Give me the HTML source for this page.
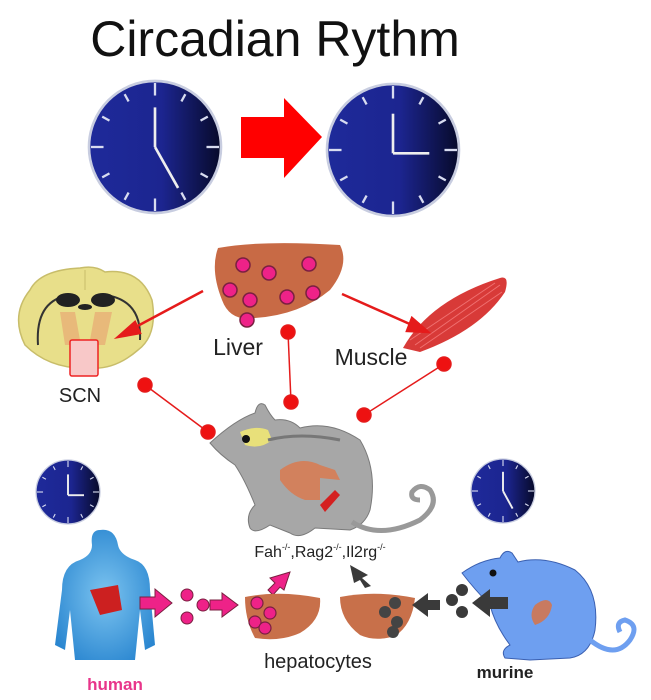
<!DOCTYPE html>
<html><head><meta charset="utf-8"><style>
html,body{margin:0;padding:0;background:#fff;}
svg{display:block;font-family:"Liberation Sans",Arial,sans-serif;}
</style></head><body>
<svg width="651" height="700" viewBox="0 0 651 700" xmlns="http://www.w3.org/2000/svg">
<defs>
<linearGradient id="cg" x1="0" x2="1" y1="0" y2="0">
<stop offset="0" stop-color="#1e2a9a"/><stop offset="0.55" stop-color="#1c2590"/><stop offset="1" stop-color="#070a2a"/>
</linearGradient>
<radialGradient id="bodyg" cx="0.5" cy="0.5" r="0.6"><stop offset="0" stop-color="#7cc4f0"/><stop offset="1" stop-color="#2a86d0"/></radialGradient>
<g id="clock">
<circle r="1" fill="url(#cg)" stroke="#c8cde0" stroke-width="0.04"/>
<g stroke="#d8dcf0" stroke-width="0.035">
<line x1="0" y1="-0.97" x2="0" y2="-0.78"/><line x1="0" y1="0.97" x2="0" y2="0.78"/>
<line x1="-0.97" y1="0" x2="-0.78" y2="0"/><line x1="0.97" y1="0" x2="0.78" y2="0"/>
<line x1="0.46" y1="-0.8" x2="0.4" y2="-0.69"/><line x1="0.8" y1="-0.46" x2="0.69" y2="-0.4"/>
<line x1="0.8" y1="0.46" x2="0.69" y2="0.4"/><line x1="0.46" y1="0.8" x2="0.4" y2="0.69"/>
<line x1="-0.46" y1="0.8" x2="-0.4" y2="0.69"/><line x1="-0.8" y1="0.46" x2="-0.69" y2="0.4"/>
<line x1="-0.8" y1="-0.46" x2="-0.69" y2="-0.4"/><line x1="-0.46" y1="-0.8" x2="-0.4" y2="-0.69"/>
</g>
</g>
</defs>

<text x="275" y="56" font-size="50" text-anchor="middle" fill="#111">Circadian Rythm</text>

<g transform="translate(155,147) scale(66)"><use href="#clock"/>
<g stroke="#eee" stroke-width="0.04"><line x1="0" y1="0" x2="0" y2="-0.6"/><line x1="0" y1="0" x2="0.35" y2="0.62"/></g></g>
<polygon points="241,117 284,117 284,98 322,137 284,178 284,158 241,158" fill="#f00"/>
<g transform="translate(393,150) scale(66)"><use href="#clock"/>
<g stroke="#eee" stroke-width="0.04"><line x1="0" y1="0.05" x2="0" y2="-0.55"/><line x1="0" y1="0.05" x2="0.55" y2="0.05"/></g></g>

<!-- brain -->
<path d="M30,290 Q40,270 80,268 Q95,265 105,272 Q140,268 152,300 Q158,335 138,350 Q115,370 90,368 Q50,370 25,345 Q10,315 30,290Z" fill="#e8df8a" stroke="#c8bd6a" stroke-width="1.5"/>
<line x1="85" y1="270" x2="85" y2="290" stroke="#c8bd6a" stroke-width="1"/>
<path d="M38,345 Q35,300 70,295 M140,340 Q142,300 105,295" fill="none" stroke="#333" stroke-width="2"/>
<ellipse cx="68" cy="300" rx="12" ry="7" fill="#222"/><ellipse cx="103" cy="300" rx="12" ry="7" fill="#222"/>
<ellipse cx="85" cy="307" rx="7" ry="3" fill="#222"/>
<path d="M60,312 L75,312 L80,340 L90,340 L95,312 L112,312 L105,345 L65,345Z" fill="#e8a070" opacity="0.6"/>
<rect x="70" y="340" width="28" height="36" fill="#f8c8c8" stroke="#e22" stroke-width="1.5" rx="2"/>
<text x="80" y="402" font-size="20" text-anchor="middle" fill="#222">SCN</text>

<!-- top liver -->
<path d="M218,248 Q260,240 340,245 Q350,265 330,290 Q300,315 255,318 Q230,322 222,300 Q210,270 218,248Z" fill="#c86a45"/>
<g fill="#ee2288" stroke="#7a2040" stroke-width="1.5">
<circle cx="243" cy="265" r="7"/><circle cx="269" cy="273" r="7"/><circle cx="309" cy="264" r="7"/>
<circle cx="230" cy="290" r="7"/><circle cx="250" cy="300" r="7"/><circle cx="287" cy="297" r="7"/>
<circle cx="313" cy="293" r="7"/><circle cx="247" cy="320" r="7"/></g>
<text x="238" y="355" font-size="23" text-anchor="middle" fill="#222">Liver</text>

<!-- muscle -->
<path d="M403,348 Q430,300 500,278 Q510,275 505,292 Q480,330 420,352 Z" fill="#d83a38"/>
<g stroke="#f07070" stroke-width="1"><line x1="415" y1="345" x2="500" y2="285"/><line x1="420" y1="348" x2="502" y2="292"/><line x1="410" y1="340" x2="495" y2="283"/></g>
<text x="371" y="365" font-size="23" text-anchor="middle" fill="#222">Muscle</text>

<g stroke="#e51b1b" stroke-width="2.5" fill="#e51b1b">
<line x1="203" y1="291" x2="130" y2="330"/><polygon points="118,337 135,322 140,333"/>
<line x1="342" y1="294" x2="412" y2="325"/><polygon points="428,332 412,318 407,331"/>
</g>
<g stroke="#e51b1b" stroke-width="1.5" fill="#ee1111">
<line x1="145" y1="385" x2="208" y2="432"/><circle cx="145" cy="385" r="7"/><circle cx="208" cy="432" r="7"/>
<line x1="288" y1="332" x2="291" y2="402"/><circle cx="288" cy="332" r="7"/><circle cx="291" cy="402" r="7"/>
<line x1="444" y1="364" x2="364" y2="415"/><circle cx="444" cy="364" r="7"/><circle cx="364" cy="415" r="7"/>
</g>

<!-- gray mouse -->
<path d="M210,443 Q235,420 255,413 Q258,400 265,405 Q270,415 275,420 Q290,418 300,428 Q330,420 360,440 Q378,470 370,510 Q365,525 350,530 L315,528 Q300,540 290,533 L270,525 Q255,535 250,528 Q245,515 255,505 Q245,480 235,465 Q220,455 210,443Z" fill="#a7a7a7" stroke="#7a7a7a" stroke-width="1"/>
<path d="M352,522 Q380,540 420,520 Q440,505 430,490 Q420,482 412,492 Q410,500 420,500" fill="none" stroke="#999" stroke-width="5"/>
<path d="M240,432 Q255,425 268,430 L272,440 Q260,450 245,445Z" fill="#e8e07a"/>
<circle cx="246" cy="439" r="4" fill="#111"/>
<path d="M268,440 Q300,432 340,440" fill="none" stroke="#777" stroke-width="3"/>
<path d="M280,470 Q300,455 320,465 L335,470 L340,480 L320,478 L320,500 L305,500 Q290,495 280,480Z" fill="#d97a50" opacity="0.85"/>
<path d="M320,505 L335,490 L340,495 L325,512Z" fill="#d42020"/>

<g transform="translate(68,492) scale(32)"><use href="#clock"/>
<g stroke="#eee" stroke-width="0.06"><line x1="0" y1="0.1" x2="0" y2="-0.55"/><line x1="0" y1="0.1" x2="0.5" y2="0.1"/></g></g>
<g transform="translate(503,491) scale(32)"><use href="#clock"/>
<g stroke="#eee" stroke-width="0.06"><line x1="0" y1="0" x2="0" y2="-0.6"/><line x1="0" y1="0" x2="0.3" y2="0.55"/></g></g>

<text x="320" y="557" font-size="16" text-anchor="middle" fill="#222">Fah<tspan font-size="9" dy="-7">-/-</tspan><tspan dy="7">,Rag2</tspan><tspan font-size="9" dy="-7">-/-</tspan><tspan dy="7">,Il2rg</tspan><tspan font-size="9" dy="-7">-/-</tspan></text>

<!-- human body -->
<path d="M100,530 Q115,528 118,545 Q120,555 135,560 Q150,565 150,590 L155,645 L145,650 L140,610 L135,660 L75,660 L70,610 L65,650 L55,645 L62,590 Q62,565 80,560 Q92,555 92,545 Q90,530 100,530Z" fill="url(#bodyg)"/>
<path d="M90,590 L118,585 L122,610 L100,615Z" fill="#cc2020"/>
<text x="115" y="690" font-size="17" font-weight="bold" text-anchor="middle" fill="#e8358a">human</text>

<g fill="#ee2288" stroke="#7a2040" stroke-width="1">
<polygon points="140,597 155,597 155,589 172,603 155,617 155,609 140,609"/>
<circle cx="187" cy="595" r="6"/><circle cx="187" cy="618" r="6"/><circle cx="203" cy="605" r="6"/>
<polygon points="210,600 222,600 222,593 238,605 222,617 222,610 210,610"/>
<polygon points="268,590 275,583 270,578 290,572 284,590 280,587 273,595"/>
</g>
<path d="M245,597 Q280,590 320,598 Q322,620 300,633 Q280,642 255,638 Q245,620 245,597Z" fill="#c8704a"/>
<g fill="#ee2288" stroke="#7a2040" stroke-width="1.2"><circle cx="257" cy="603" r="6"/><circle cx="255" cy="622" r="6"/><circle cx="265" cy="628" r="6"/><circle cx="270" cy="613" r="6"/></g>
<path d="M340,597 Q375,590 415,598 Q412,625 395,636 Q375,642 360,635 Q340,620 340,597Z" fill="#c8704a"/>
<g fill="#444"><circle cx="385" cy="612" r="6"/><circle cx="395" cy="603" r="6"/><circle cx="397" cy="622" r="6"/><circle cx="393" cy="632" r="6"/></g>
<text x="318" y="668" font-size="20" text-anchor="middle" fill="#222">hepatocytes</text>

<!-- blue mouse -->
<path d="M462,573 Q480,560 500,558 Q505,548 512,553 L518,562 Q545,555 575,570 Q600,590 595,630 Q590,655 570,658 L530,660 L505,658 Q500,650 510,645 Q495,625 490,605 Q475,590 462,573Z" fill="#6e9ff0" stroke="#3a5fb0" stroke-width="1"/>
<path d="M590,640 Q615,660 630,640 Q640,625 625,620 Q615,622 620,632" fill="none" stroke="#6e9ff0" stroke-width="5"/>
<circle cx="493" cy="573" r="3.5" fill="#111"/>
<path d="M535,605 Q548,595 552,605 Q550,620 535,625 Q528,615 535,605Z" fill="#c87a60"/>
<g fill="#3a3a3a">
<polygon points="440,600 428,600 428,593 412,605 428,617 428,610 440,610"/>
<circle cx="452" cy="600" r="6"/><circle cx="462" cy="590" r="6"/><circle cx="462" cy="612" r="6"/>
<polygon points="508,597 490,597 490,589 472,603 490,617 490,609 508,609"/>
<polygon points="365,588 360,580 354,583 350,565 368,575 362,578 371,586"/>
</g>
<text x="505" y="678" font-size="17" font-weight="bold" text-anchor="middle" fill="#222">murine</text>
</svg>
</body></html>
